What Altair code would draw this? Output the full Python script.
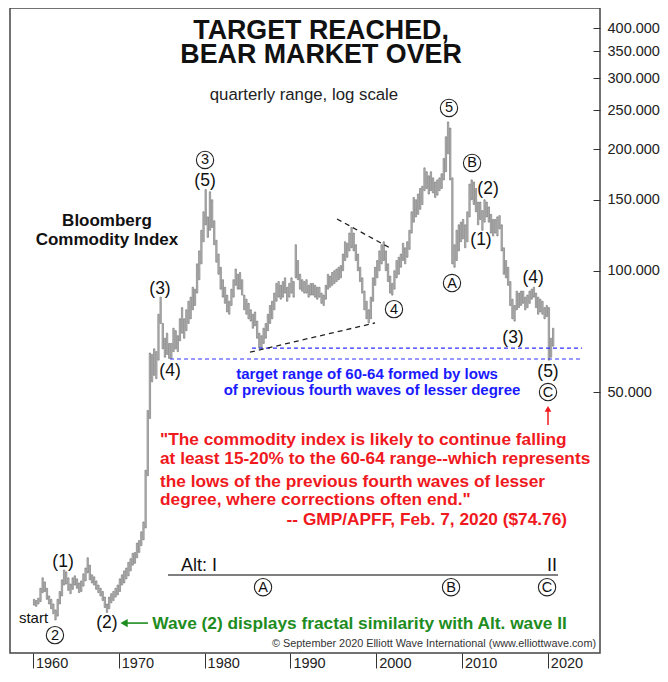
import altair as alt
import pandas as pd

FONT = "Liberation Sans, Arial, Helvetica, sans-serif"

# ---------------- data: quarterly ranges (low, high), 1960 Q1 .. 2020 Q3 ----------------
first_year = 1960
lows = [
    14.8, 14.7, 14.9, 15.1,   # 1960
    15.9, 16.0, 15.3, 14.9,   # 1961
    14.5, 14.1, 13.6, 13.9,   # 1962
    14.9, 15.6, 16.6, 16.7,   # 1963
    16.1, 15.8, 16.2, 16.6,   # 1964
    16.3, 15.9, 16.0, 16.5,   # 1965
    17.0, 17.8, 17.1, 16.8,   # 1966
    16.6, 16.2, 15.9, 15.6,   # 1967
    15.2, 14.6, 14.2, 14.5,   # 1968
    15.0, 15.2, 15.5, 15.7,   # 1969
    16.0, 16.6, 16.8, 17.2,   # 1970
    17.5, 18.0, 18.6, 18.8,   # 1971
    19.4, 20.0, 20.8, 21.5,   # 1972
    23.0, 31.0, 43.0, 53.0,   # 1973
    55.0, 54.0, 60.0, 74.0,   # 1974
    64.0, 61.0, 62.0, 60.6,   # 1975
    60.6, 63.0, 64.0, 63.0,   # 1976
    67.0, 70.0, 68.0, 71.0,   # 1977
    74.0, 76.0, 80.0, 82.0,   # 1978
    88.0, 95.0, 104.0, 118.0,  # 1979
    130.0, 121.0, 126.0, 128.0,  # 1980
    116.0, 105.0, 98.0, 90.0,  # 1981
    86.0, 83.0, 79.0, 78.0,   # 1982
    82.0, 86.0, 92.0, 90.0,   # 1983
    90.0, 87.0, 80.0, 78.0,   # 1984
    76.0, 75.0, 72.0, 73.0,   # 1985
    68.0, 64.3, 64.5, 66.0,   # 1986
    68.0, 71.0, 74.0, 76.0,   # 1987
    80.0, 84.0, 86.0, 85.0,   # 1988
    86.0, 88.0, 84.0, 86.0,   # 1989
    88.0, 86.0, 96.0, 95.0,   # 1990
    90.0, 89.0, 88.0, 88.0,   # 1991
    86.0, 87.0, 87.0, 86.0,   # 1992
    85.0, 86.0, 83.0, 82.0,   # 1993
    85.0, 90.0, 91.0, 92.0,   # 1994
    93.0, 94.0, 95.0, 96.0,   # 1995
    100.0, 106.0, 108.0, 112.0,  # 1996
    114.0, 112.0, 106.0, 100.0,  # 1997
    94.0, 88.0, 80.0, 76.0,   # 1998
    74.2, 76.0, 84.0, 92.0,   # 1999
    96.0, 100.0, 104.0, 106.0,  # 2000
    100.0, 94.0, 88.0, 87.0,  # 2001
    90.0, 96.0, 98.0, 102.0,  # 2002
    106.0, 104.0, 108.0, 113.0,  # 2003
    124.0, 132.0, 136.0, 138.0,  # 2004
    142.0, 146.0, 158.0, 160.0,  # 2005
    155.0, 158.0, 156.0, 152.0,  # 2006
    154.0, 158.0, 160.0, 168.0,  # 2007
    176.0, 195.0, 168.0, 104.0,  # 2008
    102.0, 106.0, 112.0, 118.0,  # 2009
    120.0, 114.0, 118.0, 136.0,  # 2010
    150.0, 146.0, 140.0, 130.0,  # 2011
    134.0, 126.0, 132.0, 136.0,  # 2012
    132.0, 124.0, 122.0, 124.0,  # 2013
    122.0, 127.0, 112.0, 98.0,   # 2014
    96.0, 92.0, 82.0, 76.0,   # 2015
    75.0, 80.0, 81.0, 82.0,   # 2016
    83.0, 80.0, 81.0, 83.0,   # 2017
    85.0, 86.0, 81.0, 78.0,   # 2018
    79.0, 78.0, 76.0, 77.0,   # 2019
    60.0, 61.0, 65.0,         # 2020
]
highs = [
    15.3, 15.2, 15.4, 16.3,
    17.3, 16.9, 16.3, 15.6,
    15.3, 14.9, 14.4, 15.3,
    16.0, 17.1, 18.1, 17.9,
    17.3, 16.7, 17.3, 17.5,
    17.2, 16.8, 17.0, 17.7,
    18.3, 19.4, 18.6, 17.6,
    17.4, 17.0, 16.6, 16.3,
    16.0, 15.5, 14.9, 15.5,
    15.8, 16.0, 16.3, 16.6,
    17.2, 17.6, 18.0, 18.3,
    18.9, 19.3, 19.9, 20.0,
    21.1, 21.4, 22.5, 23.8,
    32.0, 45.0, 62.5, 62.0,
    64.0, 63.0, 78.0, 86.0,
    74.0, 68.0, 70.0, 66.0,
    66.0, 72.0, 71.0, 69.0,
    76.0, 81.0, 76.0, 80.0,
    84.0, 86.0, 91.0, 90.0,
    104.0, 112.0, 126.0, 140.0,
    159.0, 136.0, 157.0, 150.0,
    133.0, 119.0, 110.0, 102.0,
    95.0, 91.0, 87.0, 84.0,
    90.0, 95.0, 101.0, 98.0,
    99.0, 95.0, 87.0, 85.0,
    83.0, 80.0, 78.0, 79.0,
    75.0, 70.0, 69.0, 72.0,
    74.0, 78.0, 82.0, 84.0,
    88.0, 93.0, 94.0, 92.0,
    94.0, 96.0, 91.0, 93.0,
    96.0, 94.0, 116.0, 106.0,
    98.0, 95.0, 94.0, 95.0,
    92.0, 93.0, 93.0, 92.0,
    91.0, 91.0, 88.0, 87.0,
    92.0, 98.0, 97.0, 99.0,
    100.0, 101.0, 102.0, 103.0,
    110.0, 118.0, 117.0, 124.0,
    128.0, 124.0, 116.0, 110.0,
    102.0, 96.0, 89.0, 84.0,
    80.0, 86.0, 96.0, 102.0,
    106.0, 112.0, 116.0, 118.0,
    112.0, 104.0, 97.0, 93.0,
    100.0, 106.0, 108.0, 110.0,
    117.0, 114.0, 118.0, 126.0,
    140.0, 152.0, 150.0, 155.0,
    160.0, 162.0, 180.0, 176.0,
    172.0, 176.0, 170.0, 166.0,
    168.0, 170.0, 174.0, 190.0,
    215.0, 234.0, 226.0, 170.0,
    116.0, 126.0, 130.0, 132.0,
    134.0, 130.0, 140.0, 164.0,
    168.0, 166.0, 160.0, 148.0,
    148.0, 141.0, 150.0, 148.0,
    144.0, 138.0, 134.0, 134.0,
    136.0, 137.0, 130.0, 114.0,
    106.0, 102.0, 94.0, 85.0,
    82.0, 89.0, 88.0, 89.0,
    89.0, 86.0, 87.0, 89.0,
    90.0, 91.0, 88.0, 86.0,
    85.0, 84.0, 81.0, 82.0,
    81.0, 68.0, 72.0,
]

year_ticks = [1960, 1970, 1980, 1990, 2000, 2010, 2020]
value_ticks = [50, 100, 150, 200, 250, 300, 350, 400]

x_domain = [1957.32, 2026.08]
y_domain = [11.26, 448.6]

# target range (lows of previous fourth waves)
target_levels = [64.3, 60.4]
target_starts = [1985.52, 1975.97]
target_end = 2023.99

# triangle boundary lines (year, value) pairs
tri_x1 = [1985.29, 1995.43]
tri_y1 = [62.8, 134.4]
tri_x2 = [1999.86, 2001.84]
tri_y2 = [74.2, 113.2]

# circled wave labels
circ_labels = ["3", "2", "4", "5", "A", "B", "C", "A", "B", "C"]
circ_x = [1980.05, 1962.56, 2002.07, 2008.48, 2008.83, 2011.17, 2020.02, 1986.81, 2008.72, 2019.91]
circ_y = [188.3, 12.47, 80.3, 253.4, 93.2, 185.1, 50.0, 16.40, 16.40, 16.40]

# parenthesised wave labels
par_labels = ["(5)", "(3)", "(4)", "(1)", "(2)", "(2)", "(1)", "(4)", "(3)", "(5)"]
par_x = [1980.05, 1974.80, 1975.97, 1963.50, 1968.62, 2013.03, 2012.21, 2018.28, 2015.94, 2020.02]
par_y = [167.0, 90.1, 56.4, 18.93, 13.36, 159.5, 119.2, 95.9, 68.1, 56.06]

title_lines = ["TARGET REACHED,", "BEAR MARKET OVER"]
title_y = [375.2, 327.1]
series_lines = ["Bloomberg", "Commodity Index"]
series_y = [129.1, 115.8]
blue_lines = ["target range of 60-64 formed by lows", "of previous fourth waves of lesser degree"]
blue_x = [1998.93, 1999.51]
blue_y = [53.86, 49.15]
quote_lines = [
    "\"The commodity index is likely to continue falling",
    "at least 15-20% to the 60-64 range--which represents",
    "the lows of the previous fourth waves of lesser",
    "degree, where corrections often end.\"",
]
quote_y = [36.9, 33.1, 29.05, 26.2]
source_line = "-- GMP/APFF, Feb. 7, 2020 ($74.76)"

XS = alt.Scale(domain=x_domain, nice=False, zero=False)
YS = alt.Scale(type="log", domain=y_domain, nice=False)

X_AXIS = alt.Axis(values=year_ticks, format="d", domain=False, grid=False,
                  tickSize=15, tickColor="#333", tickWidth=1,
                  labelAlign="left", labelBaseline="top", labelPadding=-12,
                  labelOffset=2.5, labelFont=FONT, labelFontSize=14.5,
                  labelColor="#222", labelFlush=False, labelOverlap=False, title=None)
Y_AXIS = alt.Axis(orient="right", values=value_ticks, format=".3f", offset=-7,
                  domain=False, grid=False, tickSize=7, tickColor="#333",
                  tickWidth=1, labelPadding=7, labelFont=FONT,
                  labelFontSize=14.5, labelColor="#222", labelOverlap=False,
                  labelFlush=False, title=None)


def X(f="x"):
    return alt.X(f"{f}:Q", scale=XS, axis=X_AXIS, title=None)


def Y(f="y"):
    return alt.Y(f"{f}:Q", scale=YS, axis=Y_AXIS, title=None)


n = len(lows)
bars_df = pd.DataFrame({
    "t0": [first_year + i * 0.25 + 0.045 for i in range(n)],
    "t1": [first_year + i * 0.25 + 0.205 for i in range(n)],
    "lo": lows,
    "hi": highs,
})

bars = alt.Chart(bars_df).mark_bar(fill="#c4c4c4", stroke="#6a6a6a", strokeWidth=0.6).encode(
    x=X("t0"), x2="t1:Q", y=Y("lo"), y2="hi:Q",
)

target_df = pd.DataFrame({"x": target_starts, "x2": [target_end] * 2, "y": target_levels})
target_rules = alt.Chart(target_df).mark_rule(color="#3030ff", strokeWidth=1.2, strokeDash=[4, 3]).encode(
    x=X(), x2="x2:Q", y=Y())

tri_df = pd.DataFrame({"x": tri_x1, "y": tri_y1, "x2": tri_x2, "y2": tri_y2})
tri_rules = alt.Chart(tri_df).mark_rule(color="#222", strokeWidth=1.3, strokeDash=[5, 4]).encode(
    x=X(), y=Y(), x2="x2:Q", y2="y2:Q")

alt_df = pd.DataFrame({"x": [1975.73], "x2": [2021.19], "y": [17.57]})
alt_rule = alt.Chart(alt_df).mark_rule(color="#555", strokeWidth=1.5).encode(x=X(), x2="x2:Q", y=Y())

green_df = pd.DataFrame({"x": [1970.61], "x2": [1973.40], "y": [13.36]})
green_rule = alt.Chart(green_df).mark_rule(color="#1e8c1e", strokeWidth=1.6).encode(x=X(), x2="x2:Q", y=Y())
green_head = alt.Chart(green_df).mark_point(shape="triangle-left", filled=True, color="#1e8c1e",
                                            size=70, opacity=1).encode(x=X(), y=Y())

red_df = pd.DataFrame({"x": [2020.02], "y": [41.4], "y2": [45.4]})
red_rule = alt.Chart(red_df).mark_rule(color="#f0191e", strokeWidth=1.5).encode(x=X(), y=Y(), y2="y2:Q")
red_head_df = pd.DataFrame({"x": [2020.02], "y": [45.4]})
red_head = alt.Chart(red_head_df).mark_point(shape="triangle-up", filled=True, color="#f0191e",
                                             size=45, opacity=1).encode(x=X(), y=Y())

circ_df = pd.DataFrame({"x": circ_x, "y": circ_y, "label": circ_labels})
circles = alt.Chart(circ_df).mark_point(shape="circle", filled=True, fill="white", stroke="#222",
                                        strokeWidth=1.1, size=300, opacity=1).encode(x=X(), y=Y())
circ_text = alt.Chart(circ_df).mark_text(font=FONT, fontSize=14.5, color="#111", align="center",
                                         baseline="middle", dy=0.5).encode(x=X(), y=Y(), text="label:N")

par_df = pd.DataFrame({"x": par_x, "y": par_y, "label": par_labels})
par_text = alt.Chart(par_df).mark_text(font=FONT, fontSize=17.5, color="#111", align="center",
                                       baseline="middle").encode(x=X(), y=Y(), text="label:N")


def text_layer(labels, xs, ys, **kw):
    df = pd.DataFrame({"x": xs, "y": ys, "label": labels})
    return alt.Chart(df).mark_text(font=FONT, **kw).encode(x=X(), y=Y(), text="label:N")


title = text_layer(title_lines, [1993.57, 1993.57], title_y, fontSize=26.8, fontWeight="bold",
                   color="#111", align="center", baseline="alphabetic")
subtitle = text_layer(["quarterly range, log scale"], [1991.58], [265.2], fontSize=16.8,
                      color="#222", align="center", baseline="alphabetic")
series = text_layer(series_lines, [1968.62, 1968.62], series_y, fontSize=17, fontWeight="bold",
                    color="#111", align="center", baseline="alphabetic")
start = text_layer(["start"], [1960.06], [13.74], fontSize=15, color="#111", align="center",
                   baseline="middle")
blue = text_layer(blue_lines, blue_x, blue_y, fontSize=15, fontWeight="bold", color="#1a1aff",
                  align="center", baseline="alphabetic")
quote = text_layer(quote_lines, [1974.80] * 4, quote_y, fontSize=17.3, fontWeight="bold",
                   color="#f0191e", align="left", baseline="alphabetic")
source = text_layer([source_line], [2022.24], [23.38], fontSize=17.3, fontWeight="bold",
                    color="#f0191e", align="right", baseline="alphabetic")
alt_text = text_layer(["Alt: I", "II"], [1977.25, 2019.91], [17.98, 17.98], fontSize=18,
                      color="#111", align="left", baseline="alphabetic")
green_text = text_layer(["Wave (2) displays fractal similarity with Alt. wave II"], [1973.90], [12.94],
                        fontSize=17.3, fontWeight="bold", color="#1e8c1e", align="left",
                        baseline="alphabetic")
copyright_text = text_layer(["\u00a9 September 2020 Elliott Wave International (www.elliottwave.com)"],
                            [2025.62], [11.65], fontSize=10.85, color="#333", align="right",
                            baseline="alphabetic")

chart = alt.layer(
    bars, target_rules, tri_rules, alt_rule, green_rule, green_head, red_rule, red_head,
    circles, circ_text, par_text, title, subtitle, series, start, blue, quote, source,
    alt_text, green_text, copyright_text,
).properties(
    width=590, height=645,
    padding={"left": 2, "top": 0, "right": 0, "bottom": 0},
    background="white",
).configure_view(
    stroke="#444", strokeWidth=1.5,
)

chart.save("out.html", embed_options={"renderer": "svg", "actions": False})
